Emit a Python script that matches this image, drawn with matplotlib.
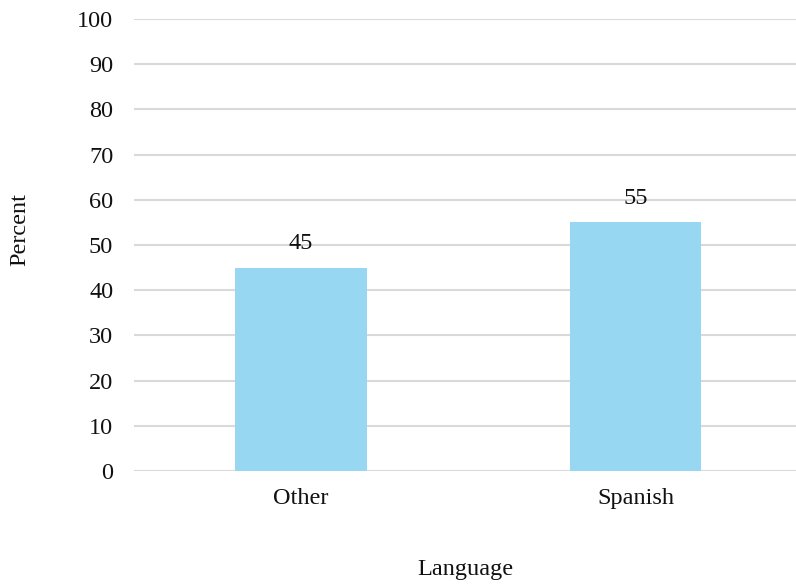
import matplotlib
matplotlib.use("Agg")
import matplotlib.pyplot as plt

categories = ["Other", "Spanish"]
values = [45, 55]
yticks = [0, 10, 20, 30, 40, 50, 60, 70, 80, 90, 100]

plt.rcParams['font.family'] = ['Liberation Serif', 'DejaVu Serif']
FS = 17.5

fig = plt.figure(figsize=(7.96, 5.84), dpi=100)
ax = fig.add_axes([134/796, 1 - 471/584, 1 - 134/796, (471 - 19)/584])

x = list(range(len(categories)))
bars = ax.bar(x, values, width=0.394, color="#97D7F2", zorder=3)
for xi, v in zip(x, values):
    ax.text(xi, v + 3.0, str(v), ha="center", va="bottom", fontsize=FS, color="#111111")

ax.set_ylim(0, 100)
ax.set_xlim(-0.5, 1.48)
ax.set_yticks(yticks)
ax.set_xticks(x)
ax.set_xticklabels(categories)
ax.tick_params(axis="both", length=0, labelsize=FS, colors="#111111")
ax.tick_params(axis="y", pad=15)
ax.tick_params(axis="x", pad=12)
ax.grid(axis="y", color="#D9D9D9", linewidth=1.5, zorder=0)
for s in ax.spines.values():
    s.set_visible(False)

ax.set_ylabel("Percent", fontsize=FS, color="#111111")
ax.yaxis.set_label_coords((30 - 134) / 662, (471 - 230) / 452)
ax.set_xlabel("Language", fontsize=FS, labelpad=36, color="#111111")

fig.savefig("out.png", dpi=100)
